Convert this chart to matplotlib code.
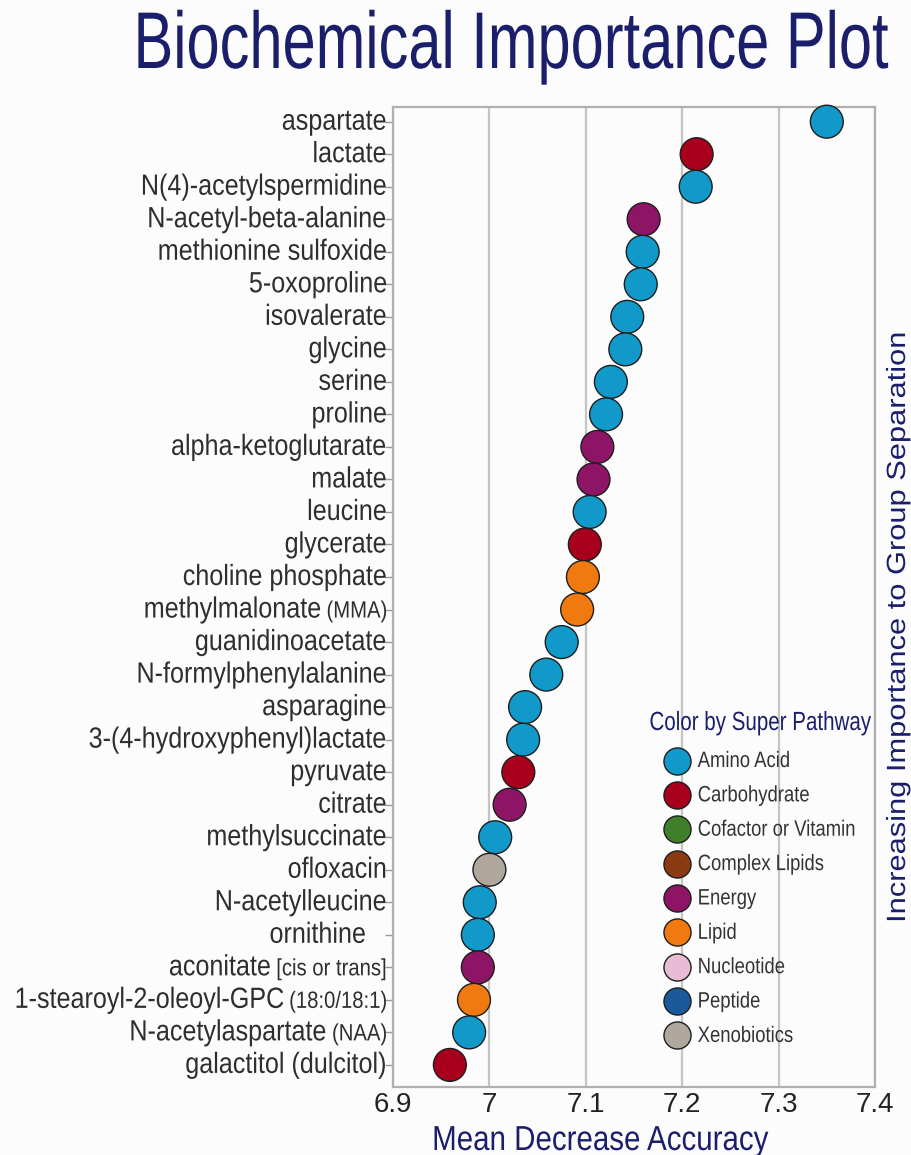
import matplotlib
matplotlib.use("Agg")
import matplotlib.pyplot as plt
from matplotlib.lines import Line2D
from matplotlib.patheffects import AbstractPathEffect
from matplotlib.transforms import Affine2D, blended_transform_factory, offset_copy

# Biochemicals, top to bottom, with an optional smaller qualifier
names = [
    "aspartate", "lactate", "N(4)-acetylspermidine", "N-acetyl-beta-alanine",
    "methionine sulfoxide", "5-oxoproline", "isovalerate", "glycine", "serine",
    "proline", "alpha-ketoglutarate", "malate", "leucine", "glycerate",
    "choline phosphate", "methylmalonate", "guanidinoacetate",
    "N-formylphenylalanine", "asparagine", "3-(4-hydroxyphenyl)lactate",
    "pyruvate", "citrate", "methylsuccinate", "ofloxacin", "N-acetylleucine",
    "ornithine   ", "aconitate", "1-stearoyl-2-oleoyl-GPC", "N-acetylaspartate",
    "galactitol (dulcitol)",
]
suffixes = [
    "", "", "", "", "", "", "", "", "", "", "", "", "", "", "",
    "(MMA)", "", "", "", "", "", "", "", "", "", "",
    "[cis or trans]", "(18:0/18:1)", "(NAA)", "",
]
mda = [
    7.350, 7.215, 7.214, 7.160, 7.159, 7.157, 7.143, 7.141, 7.126, 7.121,
    7.112, 7.108, 7.104, 7.099, 7.097, 7.091, 7.075, 7.059, 7.037, 7.035,
    7.030, 7.021, 7.006, 7.000, 6.990, 6.988, 6.988, 6.984, 6.979, 6.959,
]
pathway = [
    "Amino Acid", "Carbohydrate", "Amino Acid", "Energy", "Amino Acid",
    "Amino Acid", "Amino Acid", "Amino Acid", "Amino Acid", "Amino Acid",
    "Energy", "Energy", "Amino Acid", "Carbohydrate", "Lipid", "Lipid",
    "Amino Acid", "Amino Acid", "Amino Acid", "Amino Acid", "Carbohydrate",
    "Energy", "Amino Acid", "Xenobiotics", "Amino Acid", "Amino Acid",
    "Energy", "Lipid", "Amino Acid", "Carbohydrate",
]
pathway_names = [
    "Amino Acid", "Carbohydrate", "Cofactor or Vitamin", "Complex Lipids",
    "Energy", "Lipid", "Nucleotide", "Peptide", "Xenobiotics",
]
pathway_colors = [
    "#1199c9", "#a8001c", "#3f7f2a", "#8b3a12",
    "#8e1466", "#f07a10", "#e8bcd4", "#1a5a9a", "#b0a89c",
]
x_ticks = [6.9, 7.0, 7.1, 7.2, 7.3, 7.4]
x_tick_labels = ["6.9", "7", "7.1", "7.2", "7.3", "7.4"]


class Tall(AbstractPathEffect):
    """Stretch glyphs perpendicular to the text direction (about the baseline),
    giving a condensed look while keeping the true advance widths."""

    def __init__(self, sy):
        super().__init__()
        self.sy = sy

    def draw_path(self, renderer, gc, tpath, affine, rgbFace=None):
        renderer.draw_path(gc, tpath, Affine2D().scale(1, self.sy) + affine, rgbFace)


FONT = ["Liberation Sans", "DejaVu Sans"]
NAVY = "#1b1f6b"
LABEL = "#2e2e2e"
W, H = 911, 1155

fig = plt.figure(figsize=(W / 100, H / 100), dpi=100, facecolor="#fcfcfc")
ax = fig.add_axes([393 / W, (H - 1086.7) / H, 482 / W, (1086.7 - 106.7) / H])
ax.set_facecolor("#fcfcfc")

color_of = dict(zip(pathway_names, pathway_colors))
ypos = list(range(len(names)))
ax.scatter(mda, ypos, s=560, c=[color_of[p] for p in pathway],
           edgecolors="#1e1e1e", linewidths=1.0, zorder=3, clip_on=False)

ax.set_xlim(6.9, 7.4)
ax.set_ylim(29.67, -0.46)
ax.set_xticks(x_ticks)
ax.set_xticklabels(x_tick_labels, fontsize=20, family=FONT, color="#222222")
ax.set_yticks(ypos)
ax.set_yticklabels([])
ax.tick_params(axis="y", length=6, width=1, color="#9a9a9a", direction="out")
ax.tick_params(axis="x", length=0, pad=4)
ax.grid(axis="x", color="#c4c4c4", linewidth=1.6, zorder=0)
for sp in ax.spines.values():
    sp.set_color("#b0b0b0")
    sp.set_linewidth(1.6)

# Row labels: main name plus a smaller qualifier, right-aligned at the ticks
TALL = Tall(1.163)
row_tr = blended_transform_factory(ax.transAxes, ax.transData)
renderer = fig.canvas.get_renderer()
for y, name, suf in zip(ypos, names, suffixes):
    right = -6.0
    if suf:
        t = ax.text(0, y, suf, transform=offset_copy(row_tr, fig, x=right, y=-8, units="dots"),
                    ha="right", va="baseline", fontsize=14.6, family=FONT, color=LABEL,
                    path_effects=[TALL], clip_on=False)
        right -= t.get_window_extent(renderer).width + 5
    ax.text(0, y, name, transform=offset_copy(row_tr, fig, x=right, y=-8, units="dots"),
            ha="right", va="baseline", fontsize=18.1, family=FONT, color=LABEL,
            path_effects=[TALL], clip_on=False)

fig.text(511 / W, (H - 68) / H, "Biochemical Importance Plot", ha="center",
         va="baseline", fontsize=42.9, family=FONT, color=NAVY,
         path_effects=[Tall(1.35)])
fig.text(600 / W, (H - 1150) / H, "Mean Decrease Accuracy", ha="center",
         va="baseline", fontsize=21.25, family=FONT, color=NAVY,
         path_effects=[Tall(1.176)])
fig.text(897 / W, (H - 627) / H, "Increasing Importance to Group Separation",
         ha="center", va="center", rotation=90, fontsize=22.2, family=FONT,
         color=NAVY, path_effects=[Tall(0.855)])

fig.text(760 / W, (H - 730) / H, "Color by Super Pathway", ha="center",
         va="baseline", fontsize=14.8, family=FONT, color=NAVY,
         path_effects=[Tall(1.28)])
handles = [Line2D([], [], linestyle="none", marker="o", markersize=19.5,
                  markerfacecolor=c, markeredgecolor="#1e1e1e",
                  markeredgewidth=1.0) for c in pathway_colors]
leg = ax.legend(handles, pathway_names, loc="upper left",
                bbox_to_anchor=(664 / W, (H - 754) / H),
                bbox_transform=fig.transFigure, frameon=False,
                prop=dict(family=FONT, size=13.3), labelspacing=0.94,
                handletextpad=0.384, handlelength=1.44, borderaxespad=0,
                borderpad=0)
for t in leg.get_texts():
    t.set_color("#333333")
    t.set_path_effects([Tall(1.205)])

fig.savefig("out.png", dpi=100, facecolor=fig.get_facecolor())
